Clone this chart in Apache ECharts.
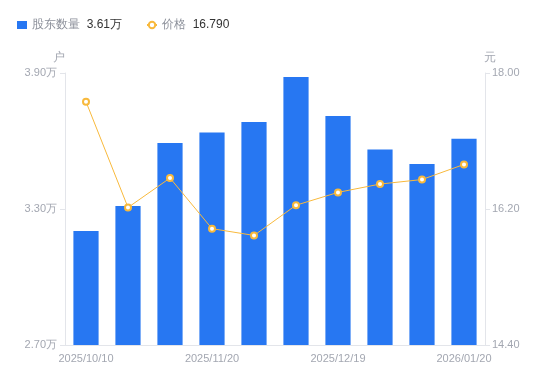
<!DOCTYPE html>
<html><head><meta charset="utf-8">
<script src="https://cdn.jsdelivr.net/npm/echarts@6/dist/echarts.min.js"></script>
<style>html,body{margin:0;padding:0;background:#fff}#c{width:550px;height:381px}</style>
</head><body><div id="c"></div>
<script>
var categories = ['2025/10/10','2025/10/20','2025/10/31','2025/11/20','2025/11/28','2025/12/10','2025/12/19','2025/12/31','2026/01/09','2026/01/20'];
var holders = [32030, 33130, 35910, 36370, 36840, 38820, 37100, 35630, 34980, 36100];
var prices = [17.62, 16.22, 16.61, 15.94, 15.85, 16.25, 16.42, 16.53, 16.59, 16.79];
var leftTicks = {min: 27000, max: 39000, interval: 6000};
var rightTicks = {min: 14.4, max: 18.0, interval: 1.8};

var chart = echarts.init(document.getElementById('c'));
var gray = '#a3a7b1';
chart.setOption({
  animation: false,
  textStyle: {fontFamily: 'sans-serif'},
  legend: {
    left: 12, top: 14, itemGap: 24, itemWidth: 10, itemHeight: 8,
    data: [{name: '股东数量', icon: 'rect'}, {name: '价格'}],
    formatter: function (n) {
      if (n === '股东数量') return '{a|' + n + '}  {b|' + (holders[holders.length-1]/10000).toFixed(2) + '万}';
      return '{a|' + n + '}  {b|' + prices[prices.length-1].toFixed(3) + '}';
    },
    textStyle: {rich: {a: {color: '#8c909a', fontSize: 12}, b: {color: '#333', fontSize: 12}}}
  },
  grid: {left: 65, right: 65, top: 73, bottom: 36},
  xAxis: {
    type: 'category', data: categories,
    axisLine: {lineStyle: {color: '#e3e5ea'}},
    axisTick: {show: false},
    axisLabel: {color: gray, fontSize: 11, interval: 2, margin: 8}
  },
  yAxis: [{
    type: 'value', name: '户', nameGap: 9, nameTextStyle: {color: gray, fontSize: 12, padding: [0, 0, 0, -12]},
    min: leftTicks.min, max: leftTicks.max, interval: leftTicks.interval,
    axisLine: {show: true, lineStyle: {color: '#e3e5ea'}},
    axisTick: {show: true, length: 5, lineStyle: {color: '#e3e5ea'}},
    splitLine: {show: false},
    axisLabel: {color: gray, fontSize: 11, margin: 8, formatter: function (v) { return (v/10000).toFixed(2) + '万'; }}
  }, {
    type: 'value', name: '元', nameGap: 9, nameTextStyle: {color: gray, fontSize: 12, padding: [0, -10, 0, 0]},
    min: rightTicks.min, max: rightTicks.max, interval: rightTicks.interval,
    axisLine: {show: true, lineStyle: {color: '#e3e5ea'}},
    axisTick: {show: true, length: 5, lineStyle: {color: '#e3e5ea'}},
    splitLine: {show: false},
    axisLabel: {color: gray, fontSize: 11, margin: 7, formatter: function (v) { return v.toFixed(2); }}
  }],
  series: [{
    name: '股东数量', type: 'bar', data: holders, barWidth: '60%',
    itemStyle: {color: '#2777f2'}
  }, {
    name: '价格', type: 'line', yAxisIndex: 1, data: prices,
    symbol: 'emptyCircle', symbolSize: 6,
    lineStyle: {color: '#f8b93c', width: 1},
    itemStyle: {color: '#f8b93c', borderWidth: 2}
  }]
});
</script></body></html>
